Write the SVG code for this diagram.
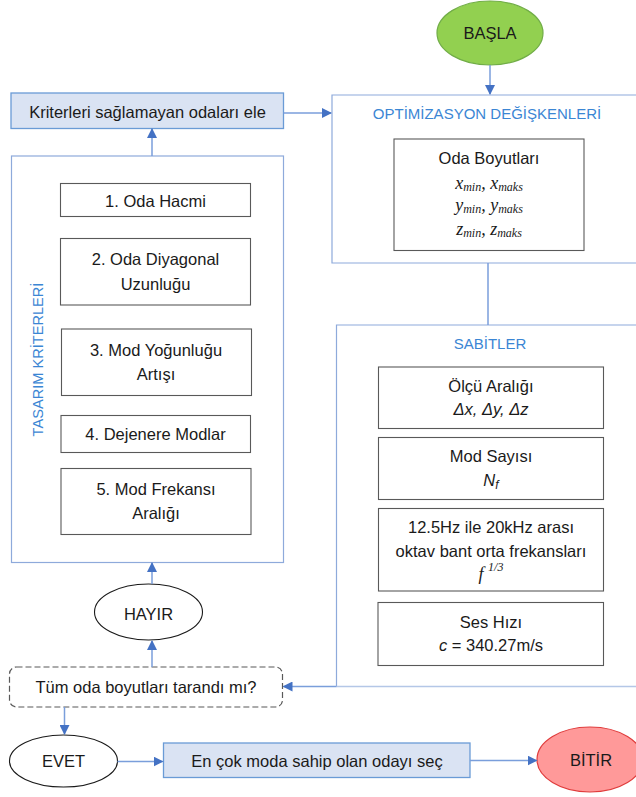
<svg xmlns="http://www.w3.org/2000/svg" width="636" height="797" viewBox="0 0 636 797">
  <style>
    text { font-family: "Liberation Sans", Arial, sans-serif; font-size: 16.5px; fill: #1a1a1a; text-anchor: middle; }
    .title { fill: #3b86d4; font-size: 15px; }
    .math { font-family: "Liberation Serif", "Times New Roman", serif; font-style: italic; font-size: 18px; }
    .ital { font-style: italic; }
    .sub { font-size: 12px; }
    .container { fill: #ffffff; stroke: #8eaadb; stroke-width: 1.2; }
    .item { fill: #ffffff; stroke: #595959; stroke-width: 1.1; }
    .process { fill: #dae3f3; stroke: #6a9bd6; stroke-width: 1.3; }
    .terminal { fill: #ffffff; stroke: #1a1a1a; stroke-width: 1.1; }
    .edge { fill: none; stroke: #7a9edb; stroke-width: 1.5; }
  </style>
  <defs>
    <marker id="arrow" markerWidth="10" markerHeight="10" refX="9" refY="5" orient="auto" markerUnits="userSpaceOnUse">
      <path d="M0,0 L10,5 L0,10 Z" fill="#4472c4"/>
    </marker>
  </defs>

  <rect width="636" height="797" fill="#ffffff"/>

  <!-- start -->
  <g id="start">
    <ellipse cx="490" cy="33" rx="53" ry="32" fill="#92d050" stroke="#71ad47" stroke-width="1.2"/>
    <text x="490" y="39">BAŞLA</text>
  </g>

  <!-- optimisation variables -->
  <g id="variables">
    <path class="container" d="M640,95 H332 V263 H640"/>
    <text class="title" x="487" y="118.5">OPTİMİZASYON DEĞİŞKENLERİ</text>
    <rect class="item" x="394" y="139" width="190" height="111.5"/>
    <text x="489" y="163.5">Oda Boyutları</text>
    <text class="math" x="489" y="188.5">x<tspan class="sub" dy="2">min</tspan><tspan dy="-2">, x</tspan><tspan class="sub" dy="2">maks</tspan></text>
    <text class="math" x="489" y="211">y<tspan class="sub" dy="2">min</tspan><tspan dy="-2">, y</tspan><tspan class="sub" dy="2">maks</tspan></text>
    <text class="math" x="489" y="235">z<tspan class="sub" dy="2">min</tspan><tspan dy="-2">, z</tspan><tspan class="sub" dy="2">maks</tspan></text>
  </g>

  <!-- constants -->
  <g id="constants">
    <path d="M640,325 H336.5 V686.5" fill="none" stroke="#8eaadb" stroke-width="1.2"/>
    <path d="M336.5,686.5 H640" fill="none" stroke="#b4c7e7" stroke-width="1.5"/>
    <text class="title" x="490" y="349">SABİTLER</text>
    <rect class="item" x="378.5" y="367" width="225" height="61.5"/>
    <text x="491" y="391.5">Ölçü Aralığı</text>
    <text x="491" y="415" class="ital">Δx, Δy, Δz</text>
    <rect class="item" x="378.5" y="437.5" width="225" height="62"/>
    <text x="491" y="462">Mod Sayısı</text>
    <text x="491" y="486" class="ital">N<tspan class="sub" dy="3">f</tspan></text>
    <rect class="item" x="378.5" y="508.5" width="225" height="82.5"/>
    <text x="491" y="532.5">12.5Hz ile 20kHz arası</text>
    <text x="491" y="556.5">oktav bant orta frekansları</text>
    <text x="491" y="580" class="math">f <tspan class="sub" dy="-9">1/3</tspan></text>
    <rect class="item" x="378" y="602.5" width="225.5" height="63"/>
    <text x="491" y="627.5">Ses Hızı</text>
    <text x="491" y="650.5"><tspan class="ital">c</tspan> = 340.27m/s</text>
  </g>

  <!-- eliminate rooms -->
  <g id="eliminate">
    <rect class="process" x="11" y="93" width="272.5" height="35.5"/>
    <text x="147.5" y="117.5">Kriterleri sağlamayan odaları ele</text>
  </g>

  <!-- design criteria -->
  <g id="criteria">
    <rect class="container" x="11.5" y="156" width="272" height="406.5"/>
    <text class="title" transform="translate(43.3,359.5) rotate(-90)" style="font-size:14.6px">TASARIM KRİTERLERİ</text>
    <rect class="item" x="60.5" y="183.5" width="190" height="33"/>
    <text x="155.5" y="207">1. Oda Hacmi</text>
    <rect class="item" x="60.5" y="238.5" width="190" height="66.5"/>
    <text x="155.5" y="265">2. Oda Diyagonal</text>
    <text x="155.5" y="289.5">Uzunluğu</text>
    <rect class="item" x="61.5" y="329" width="190" height="66.5"/>
    <text x="156" y="355.5">3. Mod Yoğunluğu</text>
    <text x="156" y="380">Artışı</text>
    <rect class="item" x="61" y="415.5" width="189.5" height="37"/>
    <text x="155.5" y="440">4. Dejenere Modlar</text>
    <rect class="item" x="61" y="468.5" width="190" height="66"/>
    <text x="156" y="495">5. Mod Frekansı</text>
    <text x="156" y="519">Aralığı</text>
  </g>

  <!-- no -->
  <g id="no">
    <ellipse class="terminal" cx="148.5" cy="612" rx="54" ry="28"/>
    <text x="148.5" y="620">HAYIR</text>
  </g>

  <!-- decision -->
  <g id="decision">
    <rect x="9.5" y="667" width="273" height="40" rx="7" fill="#ffffff" stroke="#595959" stroke-width="1.2" stroke-dasharray="6,3"/>
    <text x="146" y="692.5">Tüm oda boyutları tarandı mı?</text>
  </g>

  <!-- yes -->
  <g id="yes">
    <ellipse class="terminal" cx="63.5" cy="761" rx="54" ry="26"/>
    <text x="63.5" y="767">EVET</text>
  </g>

  <!-- select room -->
  <g id="select">
    <rect class="process" x="163.5" y="743" width="306.5" height="34.5"/>
    <text x="317" y="767">En çok moda sahip olan odayı seç</text>
  </g>

  <!-- end -->
  <g id="end">
    <ellipse cx="590" cy="759.5" rx="53" ry="32.5" fill="#ff9999" stroke="#e03c3c" stroke-width="1.2"/>
    <text x="591" y="766">BİTİR</text>
  </g>

  <!-- connectors -->
  <g id="connectors">
    <path class="edge" d="M490,65 V94" marker-end="url(#arrow)"/>
    <path class="edge" d="M283.5,113 H331" marker-end="url(#arrow)"/>
    <path class="edge" d="M488,263 V325"/>
    <path class="edge" d="M152,156 V129" marker-end="url(#arrow)"/>
    <path class="edge" d="M152,584 V563" marker-end="url(#arrow)"/>
    <path class="edge" d="M152,667 V641" marker-end="url(#arrow)"/>
    <path class="edge" d="M336.5,686.5 H283.5" marker-end="url(#arrow)"/>
    <path class="edge" d="M64.5,707 V734" marker-end="url(#arrow)"/>
    <path class="edge" d="M117.5,761.5 H162.5" marker-end="url(#arrow)"/>
    <path class="edge" d="M470,760.5 H536.5" marker-end="url(#arrow)"/>
  </g>
</svg>
